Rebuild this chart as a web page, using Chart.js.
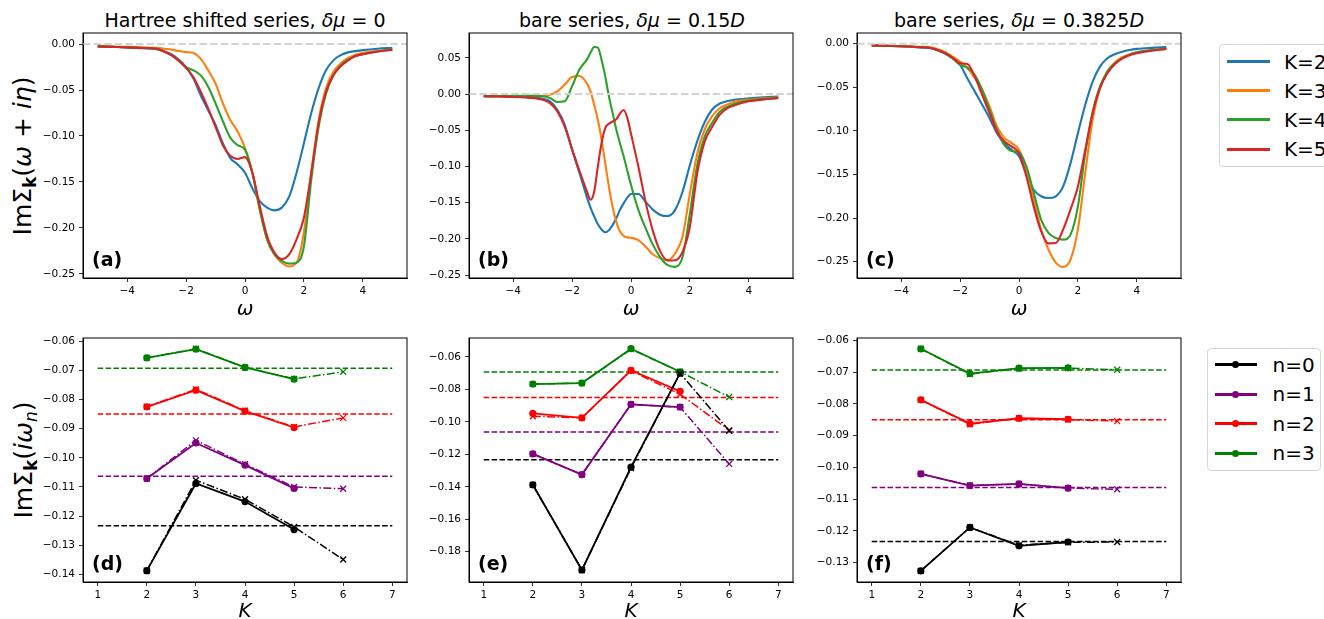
<!DOCTYPE html>
<html lang="en">
<head>
<meta charset="UTF-8">
<title>Im Sigma_k: real-frequency and Matsubara convergence</title>
<script src="https://cdn.jsdelivr.net/npm/chart.js"></script>
<style>
  body { margin: 0; background: #fff; }
  #fig { position: relative; width: 1324px; height: 619px; overflow: hidden; background: #fff;
         font-family: "DejaVu Sans", sans-serif; color: #000; }
  #fig canvas { position: absolute; }
  .ttl { position: absolute; width: 400px; text-align: center; font-size: 19px; line-height: 22px; white-space: nowrap; }
  .ylab { position: absolute; width: 240px; height: 30px; line-height: 30px; text-align: center;
          font-size: 25px; transform: rotate(-90deg); white-space: nowrap; }
  .ylab sub { font-size: 17px; font-weight: bold; vertical-align: -0.3em; line-height: 0; }
  .ylab sub.it { font-weight: normal; font-style: italic; }
  .lgd { position: absolute; border: 1px solid #d6d6d6; border-radius: 4px; background: #fff; box-sizing: border-box; }
  .lgd .ln { position: absolute; height: 3px; }
  .lgd .dot { position: absolute; width: 7px; height: 7px; border-radius: 50%; }
  .lgd .tx { position: absolute; font-size: 20px; line-height: 24px; white-space: nowrap; }
</style>
</head>
<body>
<div id="fig">
  <div class="ttl" style="left:45px;top:9px">Hartree shifted series, <i>δμ</i> = 0</div>
  <div class="ttl" style="left:432px;top:9px">bare series, <i>δμ</i> = 0.15<i>D</i></div>
  <div class="ttl" style="left:819px;top:9px">bare series, <i>δμ</i> = 0.3825<i>D</i></div>
  <div class="ylab" style="left:-97px;top:141px">ImΣ<sub>k</sub>(<i>ω</i> + <i>iη</i>)</div>
  <div class="ylab" style="left:-96px;top:445px">ImΣ<sub>k</sub>(<i>iω</i><sub class="it">n</sub>)</div>
</div>

<script>
    // real-frequency grid (panels a and c)
    const omega = [-5, -4.5, -4, -3.5, -3, -2.75, -2.5, -2.25, -2, -1.75, -1.5, -1.25, -1, -0.75, -0.5, -0.25,
        0, 0.25, 0.5, 0.75, 1, 1.25, 1.5, 1.75, 2, 2.25, 2.5, 2.75, 3, 3.25, 3.5, 3.75, 4, 4.5, 5];

    // (a) Hartree shifted series, dmu = 0
    const aK2 = [-0.0025, -0.003, -0.0035, -0.0045, -0.0055, -0.008, -0.011, -0.017, -0.025, -0.0375, -0.056, -0.072, -0.088, -0.108, -0.124, -0.131,
        -0.140, -0.157, -0.171, -0.178, -0.181, -0.178, -0.166, -0.140, -0.108, -0.075, -0.048, -0.0285, -0.0177, -0.012, -0.009, -0.0076, -0.0065, -0.005, -0.004];
    const aK3 = [-0.0025, -0.0028, -0.003, -0.0035, -0.004, -0.005, -0.006, -0.0075, -0.0087, -0.0097, -0.016, -0.0285, -0.043, -0.0646, -0.0826, -0.095,
        -0.113, -0.140, -0.180, -0.2125, -0.229, -0.238, -0.242, -0.238, -0.205, -0.140, -0.083, -0.048, -0.030, -0.021, -0.015, -0.0115, -0.0095, -0.0075, -0.006];
    const aK4 = [-0.0025, -0.003, -0.0035, -0.0042, -0.005, -0.008, -0.012, -0.018, -0.025, -0.0285, -0.034, -0.0465, -0.0645, -0.084, -0.102, -0.110,
        -0.115, -0.140, -0.180, -0.2125, -0.229, -0.236, -0.239, -0.238, -0.220, -0.1475, -0.090, -0.054, -0.034, -0.023, -0.017, -0.013, -0.011, -0.008, -0.006];
    const aK5 = [-0.0025, -0.003, -0.0035, -0.0042, -0.005, -0.008, -0.012, -0.018, -0.026, -0.036, -0.052, -0.070, -0.090, -0.110, -0.1215, -0.125,
        -0.123, -0.140, -0.176, -0.209, -0.227, -0.234, -0.229, -0.2125, -0.189, -0.140, -0.086, -0.052, -0.034, -0.024, -0.0177, -0.013, -0.011, -0.008, -0.006];

    // (b) bare series, dmu = 0.15D (finer grid around the wiggles)
    const omegaB = [-5, -4.5, -4, -3.5, -3, -2.75, -2.5, -2.25, -2, -1.75, -1.5, -1.375, -1.25, -1.125, -1, -0.875, -0.75, -0.625, -0.5, -0.375, -0.25, -0.125,
        0, 0.25, 0.5, 0.75, 1, 1.25, 1.5, 1.75, 2, 2.25, 2.5, 2.75, 3, 3.25, 3.5, 3.75, 4, 4.5, 5];
    const bK2 = [-0.003, -0.003, -0.0035, -0.0045, -0.0065, -0.010, -0.0217, -0.0425, -0.077, -0.109, -0.142, -0.157, -0.169, -0.180, -0.187, -0.191, -0.188, -0.181, -0.172, -0.160, -0.151, -0.143,
        -0.138, -0.138, -0.149, -0.160, -0.167, -0.1685, -0.160, -0.135, -0.098, -0.065, -0.039, -0.0217, -0.0134, -0.010, -0.0078, -0.007, -0.006, -0.0045, -0.0035];
    const bK3 = [-0.003, -0.003, -0.0028, -0.0025, -0.0023, -0.001, 0.0037, 0.013, 0.0235, 0.025, 0.015, 0.0037, -0.0148, -0.0355, -0.063, -0.0955, -0.128, -0.1556, -0.176, -0.190, -0.196, -0.198,
        -0.1985, -0.2017, -0.211, -0.2216, -0.227, -0.2295, -0.220, -0.197, -0.137, -0.082, -0.049, -0.031, -0.020, -0.0148, -0.011, -0.0088, -0.0075, -0.006, -0.005];
    const bK4 = [-0.003, -0.0028, -0.0025, -0.0025, -0.003, -0.0055, -0.011, -0.010, 0.011, 0.034, 0.0475, 0.057, 0.065, 0.064, 0.0475, 0.0245, -0.003, -0.026, -0.049, -0.068, -0.086, -0.106,
        -0.1256, -0.160, -0.1856, -0.2087, -0.2258, -0.2364, -0.2387, -0.225, -0.165, -0.098, -0.059, -0.040, -0.025, -0.018, -0.0138, -0.011, -0.009, -0.007, -0.0055];
    const bK5 = [-0.003, -0.0035, -0.004, -0.005, -0.0078, -0.0125, -0.024, -0.045, -0.076, -0.106, -0.134, -0.146, -0.135, -0.100, -0.068, -0.047, -0.041, -0.038, -0.035, -0.027, -0.022, -0.033,
        -0.055, -0.100, -0.150, -0.190, -0.218, -0.230, -0.2295, -0.218, -0.183, -0.109, -0.066, -0.046, -0.029, -0.020, -0.016, -0.0125, -0.010, -0.0075, -0.0055];

    // (c) bare series, dmu = 0.3825D
    const cK2 = [-0.002, -0.0025, -0.003, -0.004, -0.0053, -0.008, -0.0118, -0.017, -0.0244, -0.040, -0.055, -0.070, -0.0855, -0.1026, -0.114, -0.1217,
        -0.129, -0.150, -0.1675, -0.175, -0.177, -0.175, -0.1637, -0.137, -0.1026, -0.070, -0.0435, -0.0263, -0.0168, -0.0122, -0.0092, -0.0072, -0.006, -0.0048, -0.004];
    const cK3 = [-0.002, -0.0025, -0.003, -0.0035, -0.0042, -0.0065, -0.0099, -0.015, -0.0206, -0.028, -0.0397, -0.053, -0.072, -0.095, -0.108, -0.114,
        -0.1217, -0.1446, -0.179, -0.213, -0.236, -0.251, -0.256, -0.2476, -0.213, -0.148, -0.0874, -0.051, -0.032, -0.0217, -0.0156, -0.0122, -0.010, -0.0075, -0.006];
    const cK4 = [-0.002, -0.0025, -0.003, -0.0038, -0.005, -0.0075, -0.011, -0.017, -0.0244, -0.0275, -0.036, -0.053, -0.076, -0.099, -0.116, -0.123,
        -0.1248, -0.1408, -0.171, -0.2018, -0.217, -0.2228, -0.2247, -0.219, -0.1866, -0.1255, -0.078, -0.049, -0.032, -0.0225, -0.0168, -0.0126, -0.010, -0.0075, -0.006];
    const cK5 = [-0.002, -0.0025, -0.003, -0.0038, -0.005, -0.0075, -0.011, -0.016, -0.0225, -0.0233, -0.0378, -0.0588, -0.0797, -0.1007, -0.112, -0.118,
        -0.1255, -0.152, -0.1866, -0.215, -0.229, -0.2285, -0.213, -0.190, -0.1637, -0.1217, -0.0797, -0.051, -0.034, -0.0237, -0.0172, -0.0134, -0.011, -0.008, -0.006];

    // Matsubara data: solid = K 2..5, dash-dot = extrapolated K 2..6
    const K = [2, 3, 4, 5];
    const Kext = [2, 3, 4, 5, 6];
    const refLevels = [-0.1233, -0.1063, -0.0850, -0.0693];

    const dN0 = [-0.1387, -0.1088, -0.1150, -0.1246], dN0x = [-0.1387, -0.1077, -0.1142, -0.1237, -0.1349];
    const dN1 = [-0.1071, -0.0949, -0.1025, -0.1105], dN1x = [-0.1071, -0.0940, -0.1022, -0.1100, -0.1106];
    const dN2 = [-0.0825, -0.0768, -0.0840, -0.0896], dN2x = [-0.0825, -0.0765, -0.0838, -0.0894, -0.0863];
    const dN3 = [-0.0657, -0.0627, -0.0690, -0.0730], dN3x = [-0.0657, -0.0626, -0.0690, -0.0729, -0.0705];

    const eN0 = [-0.1388, -0.1913, -0.1279, -0.0700], eN0x = [-0.1388, -0.1913, -0.1285, -0.0700, -0.1055];
    const eN1 = [-0.1197, -0.1325, -0.0892, -0.0909], eN1x = [-0.1197, -0.1325, -0.0892, -0.0909, -0.1259];
    const eN2 = [-0.0948, -0.0975, -0.0682, -0.0812], eN2x = [-0.0965, -0.0975, -0.0685, -0.0830, -0.1051];
    const eN3 = [-0.0767, -0.0761, -0.0549, -0.0691], eN3x = [-0.0767, -0.0761, -0.0552, -0.0691, -0.0847];

    const fN0 = [-0.1326, -0.1189, -0.1247, -0.1235], fN0x = [-0.1326, -0.1189, -0.1245, -0.1236, -0.1235];
    const fN1 = [-0.1020, -0.1057, -0.1052, -0.1065], fN1x = [-0.1020, -0.1057, -0.1052, -0.1065, -0.1069];
    const fN2 = [-0.0787, -0.0862, -0.0845, -0.0848], fN2x = [-0.0787, -0.0864, -0.0845, -0.0849, -0.0854];
    const fN3 = [-0.0626, -0.0704, -0.0687, -0.0686], fN3x = [-0.0626, -0.0706, -0.0688, -0.0687, -0.0692];

    // tick labels
    const omegaTicks = [-4, -2, 0, 2, 4];
    const kTicks = [1, 2, 3, 4, 5, 6, 7];
    const yTicksA = [0, -0.05, -0.10, -0.15, -0.20, -0.25];
    const yTicksB = [0.05, 0, -0.05, -0.10, -0.15, -0.20, -0.25];
    const yTicksD = [-0.06, -0.07, -0.08, -0.09, -0.10, -0.11, -0.12, -0.13, -0.14];
    const yTicksE = [-0.06, -0.08, -0.10, -0.12, -0.14, -0.16, -0.18];
    const yTicksF = [-0.06, -0.07, -0.08, -0.09, -0.10, -0.11, -0.12, -0.13];

    const kLabels = ["K=2", "K=3", "K=4", "K=5"];
    const kColors = ["#1f77b4", "#ff7f0e", "#2ca02c", "#d62728"];
    const nLabels = ["n=0", "n=1", "n=2", "n=3"];
    const nColors = ["#000000", "#800080", "#ff0000", "#008000"];

    const FAMILY = '"DejaVu Sans", sans-serif';
    const fig = document.getElementById("fig");

    function fmt(v, digits) {
        return Number(v).toFixed(digits).replace("-", "\u2212");
    }

    function axis(min, max, vals, digits, title, fitSize, pad) {
        return {
            type: "linear",
            min: min,
            max: max,
            afterBuildTicks: s => { s.ticks = vals.map(v => ({ value: v })); },
            afterFit: s => { if (s.isHorizontal()) s.height = fitSize; else s.width = fitSize; },
            ticks: {
                font: { family: FAMILY, size: 10.5 },
                color: "#000",
                padding: pad,
                autoSkip: false,
                maxRotation: 0,
                callback: v => fmt(v, digits)
            },
            grid: { drawOnChartArea: false, tickLength: 4, color: "#000", lineWidth: 0.8 },
            border: { color: "#000", width: 1 },
            title: title ? {
                display: true, text: title, color: "#000", padding: 0,
                font: { family: FAMILY, size: 20, style: "italic" }
            } : { display: false }
        };
    }

    // black box round the plot area plus the bold panel tag
    function framePlugin(tag) {
        return {
            id: "frame",
            afterDraw(chart) {
                const a = chart.chartArea, ctx = chart.ctx;
                ctx.save();
                ctx.strokeStyle = "#000";
                ctx.lineWidth = 1;
                ctx.strokeRect(a.left, a.top, a.right - a.left, a.bottom - a.top);
                ctx.font = "bold 19px " + FAMILY;
                ctx.fillStyle = "#000";
                ctx.textBaseline = "middle";
                ctx.fillText(tag, a.left + 9, a.bottom - 17);
                ctx.restore();
            }
        };
    }

    function makeCanvas(left, top, w, h) {
        const c = document.createElement("canvas");
        c.width = w;
        c.height = h;
        c.style.left = left + "px";
        c.style.top = top + "px";
        c.style.width = w + "px";
        c.style.height = h + "px";
        fig.appendChild(c);
        return c;
    }

    const Y_W = 70, PAD_T = 12, PAD_R = 12, PLOT_W = 324;

    function baseOptions(xAxis, yAxis) {
        return {
            responsive: false,
            devicePixelRatio: 1,
            animation: false,
            events: [],
            layout: { padding: { top: PAD_T, right: PAD_R, left: 0, bottom: 0 } },
            plugins: { legend: { display: false }, tooltip: { enabled: false } },
            scales: { x: xAxis, y: yAxis }
        };
    }

    function topChart(plotLeft, xs, series, yMin, yMax, yTicks, tag) {
        const plotTop = 33, plotH = 245, xH = 44;
        const canvas = makeCanvas(plotLeft - Y_W, plotTop - PAD_T, Y_W + PLOT_W + PAD_R, PAD_T + plotH + xH);
        const datasets = series.map((ys, i) => ({
            label: kLabels[i],
            data: xs.map((x, j) => ({ x: x, y: ys[j] })),
            borderColor: kColors[i],
            borderWidth: 2.1,
            pointRadius: 0,
            cubicInterpolationMode: "monotone",
            order: series.length - i
        }));
        datasets.push({
            label: "zero",
            data: [{ x: -5.5, y: 0 }, { x: 5.5, y: 0 }],
            borderColor: "#d3d3d3",
            borderWidth: 2,
            borderDash: [7.4, 3.2],
            pointRadius: 0,
            order: 0
        });
        return new Chart(canvas, {
            type: "line",
            data: { datasets: datasets },
            options: baseOptions(axis(-5.5, 5.5, omegaTicks, 0, "ω", xH, 3), axis(yMin, yMax, yTicks, 2, null, Y_W, 4)),
            plugins: [framePlugin(tag)]
        });
    }

    function bottomChart(plotLeft, solid, ext, yMin, yMax, yTicks, tag) {
        const plotTop = 338, plotH = 244, xH = 42;
        const canvas = makeCanvas(plotLeft - Y_W, plotTop - PAD_T, Y_W + PLOT_W + PAD_R, PAD_T + plotH + xH);
        const datasets = [];
        solid.forEach((ys, i) => {
            const col = nColors[i];
            datasets.push({
                label: nLabels[i],
                data: K.map((k, j) => ({ x: k, y: ys[j] })),
                borderColor: col, borderWidth: 1.8,
                pointStyle: "circle", pointRadius: 3.6,
                pointBackgroundColor: col, pointBorderColor: col, pointBorderWidth: 0,
                tension: 0, order: 2
            });
            datasets.push({
                label: nLabels[i] + " ext",
                data: Kext.map((k, j) => ({ x: k, y: ext[i][j] })),
                borderColor: col, borderWidth: 1.5, borderDash: [8, 2.4, 1.5, 2.4],
                pointStyle: "crossRot", pointRadius: 4.2,
                pointBackgroundColor: col, pointBorderColor: col, pointBorderWidth: 1.3,
                tension: 0, order: 1
            });
            datasets.push({
                label: nLabels[i] + " ref",
                data: [{ x: 1, y: refLevels[i] }, { x: 7, y: refLevels[i] }],
                borderColor: col, borderWidth: 1.5, borderDash: [5.5, 2.4],
                pointRadius: 0, order: 3
            });
        });
        return new Chart(canvas, {
            type: "line",
            data: { datasets: datasets },
            options: baseOptions(axis(0.7, 7.3, kTicks, 0, "K", xH, 3), axis(yMin, yMax, yTicks, 2, null, Y_W, 4)),
            plugins: [framePlugin(tag)]
        });
    }

    const panelLeft = [83, 469, 857];

    topChart(panelLeft[0], omega, [aK2, aK3, aK4, aK5], -0.2546, 0.0121, yTicksA, "(a)");
    topChart(panelLeft[1], omegaB, [bK2, bK3, bK4, bK5], -0.2541, 0.0843, yTicksB, "(b)");
    const chartC = topChart(panelLeft[2], omega, [cK2, cK3, cK4, cK5], -0.2687, 0.0122, yTicksA, "(c)");

    bottomChart(panelLeft[0], [dN0, dN1, dN2, dN3], [dN0x, dN1x, dN2x, dN3x], -0.1426, -0.0589, yTicksD, "(d)");
    bottomChart(panelLeft[1], [eN0, eN1, eN2, eN3], [eN0x, eN1x, eN2x, eN3x], -0.1987, -0.0483, yTicksE, "(e)");
    const chartF = bottomChart(panelLeft[2], [fN0, fN1, fN2, fN3], [fN0x, fN1x, fN2x, fN3x], -0.1361, -0.0592, yTicksF, "(f)");

    // legends built from the chart datasets
    function buildLegend(chart, box, rowTop, rowStep, lineX, lineLen, textX, withDot) {
        const el = document.createElement("div");
        el.className = "lgd";
        el.style.left = box.left + "px";
        el.style.top = box.top + "px";
        el.style.width = box.width + "px";
        el.style.height = box.height + "px";
        const items = chart.data.datasets.filter(d => /^[Kn]=\d$/.test(d.label));
        items.forEach((d, i) => {
            const y = rowTop + rowStep * i;
            const ln = document.createElement("div");
            ln.className = "ln";
            ln.style.left = lineX + "px";
            ln.style.top = (y - 1.5) + "px";
            ln.style.width = lineLen + "px";
            ln.style.background = d.borderColor;
            el.appendChild(ln);
            if (withDot) {
                const dot = document.createElement("div");
                dot.className = "dot";
                dot.style.left = (lineX + lineLen / 2 - 3.5) + "px";
                dot.style.top = (y - 3.5) + "px";
                dot.style.background = d.borderColor;
                el.appendChild(dot);
            }
            const tx = document.createElement("div");
            tx.className = "tx";
            tx.style.left = textX + "px";
            tx.style.top = (y - 12) + "px";
            tx.textContent = d.label;
            el.appendChild(tx);
        });
        fig.appendChild(el);
    }

    buildLegend(chartC, { left: 1219, top: 44, width: 130, height: 123 }, 16.5, 29.2, 6.5, 43, 64, false);
    buildLegend(chartF, { left: 1207, top: 348, width: 114, height: 123 }, 15.5, 29.5, 7, 41.5, 64.5, true);
</script>
</body>
</html>
